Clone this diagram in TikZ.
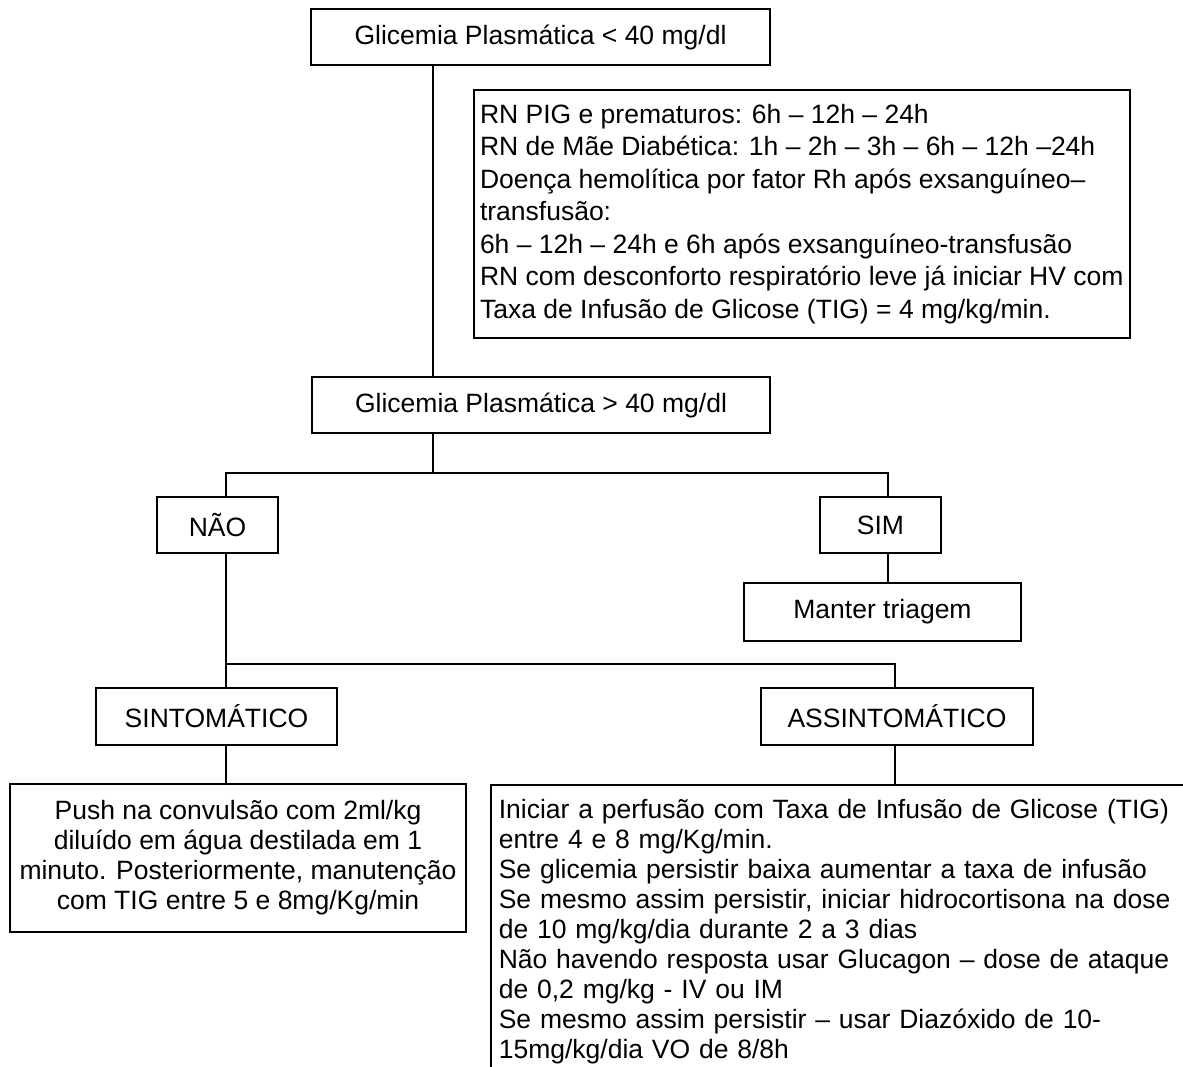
\documentclass[tikz,border=0pt]{standalone}
\usepackage{fontspec}
\setmainfont{Liberation Sans}
\newcommand{\fonte}{\fontsize{26.5}{30}\selectfont}
\newcommand{\fontelarga}{\fontsize{26.5}{32.5}\selectfont}
\tikzset{caixa/.style={draw, line width=1.6pt, inner sep=0pt, font=\fonte, align=center}}

\begin{document}
\begin{tikzpicture}[x=1pt, y=-1pt, line width=1.6pt]
\useasboundingbox (0,0) rectangle (1183,1066);
\clip (0,0) rectangle (1183,1066);
\node[caixa, minimum width=459pt, minimum height=56pt] (glicBaixa) at (540.5,37) {Glicemia Plasmática < 40 mg/dl};
\node[caixa, anchor=north west, minimum width=656pt, minimum height=248pt, align=left, font=\fontelarga] (horarios) at (473,89) {RN PIG e prematuros: 6h – 12h – 24h\\
RN de Mãe Diabética: 1h – 2h – 3h – 6h – 12h –24h\\
Doença hemolítica por fator Rh após exsanguíneo–\\
transfusão:\\
6h – 12h – 24h e 6h após exsanguíneo-transfusão\\
RN com desconforto respiratório leve já iniciar HV com\\
Taxa de Infusão de Glicose (TIG) = 4 mg/kg/min.};
\node[caixa, minimum width=458pt, minimum height=56pt] (glicAlta) at (541,405) {Glicemia Plasmática > 40 mg/dl};
\node[caixa, minimum width=121pt, minimum height=56pt] (nao) at (217.5,525) {NÃO};
\node[caixa, minimum width=121pt, minimum height=56pt] (sim) at (880.5,525) {SIM};
\node[caixa, minimum width=277pt, minimum height=58pt] (manter) at (882.5,612) {Manter triagem};
\node[caixa, minimum width=241pt, minimum height=57pt] (sint) at (216.5,716.5) {SINTOMÁTICO};
\node[caixa, minimum width=272pt, minimum height=57pt] (assint) at (897,716.5) {ASSINTOMÁTICO};
\node[caixa, minimum width=456pt, minimum height=148pt] (push) at (238,858) {Push na convulsão com 2ml/kg\\
diluído em água destilada em 1\\
minuto. Posteriormente, manutenção\\
com TIG entre 5 e 8mg/Kg/min};
\node[caixa, anchor=north west, text width=700pt, align=left, inner xsep=8pt, inner ysep=14pt] (conduta) at (490,784) {Iniciar a perfusão com Taxa de Infusão de Glicose (TIG)\\
entre 4 e 8 mg/Kg/min.\\
Se glicemia persistir baixa aumentar a taxa de infusão\\
Se mesmo assim persistir, iniciar hidrocortisona na dose\\
de 10 mg/kg/dia durante 2 a 3 dias\\
Não havendo resposta usar Glucagon – dose de ataque\\
de 0,2 mg/kg - IV ou IM\\
Se mesmo assim persistir – usar Diazóxido de 10-\\
15mg/kg/dia VO de 8/8h};
\coordinate (eixo) at (433,0);
\coordinate (esq) at (226,473);
\coordinate (dir) at (888,473);
\coordinate (ramo) at (895,664);
\draw (eixo |- glicBaixa.south) -- (eixo |- glicAlta.north);
\draw (eixo |- glicAlta.south) -- (eixo |- esq);
\draw (esq |- nao.north) -- (esq) -- (dir) -- (dir |- sim.north);
\draw (dir |- sim.south) -- (dir |- manter.north);
\draw (esq |- nao.south) -- (esq |- sint.north);
\draw (esq |- ramo) -- (ramo) -- (ramo |- assint.north);
\draw (esq |- sint.south) -- (esq |- push.north);
\draw (ramo |- assint.south) -- (ramo |- conduta.north);
\end{tikzpicture}
\end{document}
